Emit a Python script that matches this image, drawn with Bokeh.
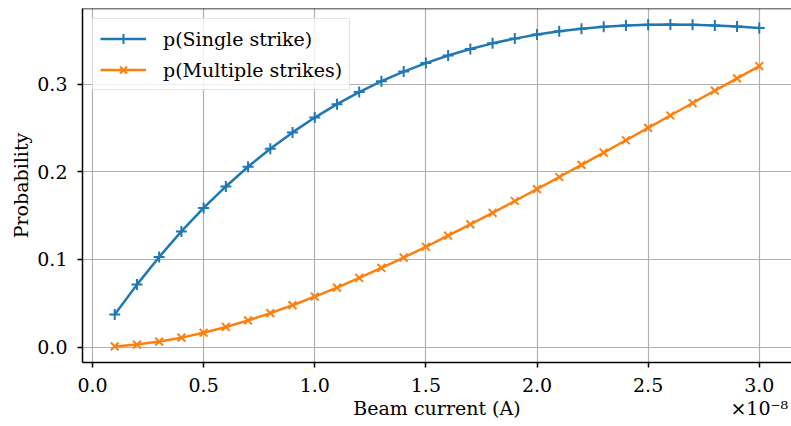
from bokeh.plotting import figure
from bokeh.models import (Range1d, SingleIntervalTicker, FixedTicker, PrintfTickFormatter,
                          Legend, LegendItem, Span, LinearAxis)
from bokeh.embed import file_html
from bokeh.resources import INLINE

# Beam current in units of 1e-8 A
beam_current_e8 = [0.1, 0.2, 0.3, 0.4, 0.5, 0.6, 0.7, 0.8, 0.9, 1.0,
                   1.1, 1.2, 1.3, 1.4, 1.5, 1.6, 1.7, 1.8, 1.9, 2.0,
                   2.1, 2.2, 2.3, 2.4, 2.5, 2.6, 2.7, 2.8, 2.9, 3.0]
p_single = [0.0370, 0.0712, 0.1028, 0.1319, 0.1587, 0.1832, 0.2057, 0.2262, 0.2449, 0.2618,
            0.2771, 0.2909, 0.3033, 0.3143, 0.3240, 0.3326, 0.3400, 0.3465, 0.3519, 0.3565,
            0.3602, 0.3631, 0.3653, 0.3668, 0.3676, 0.3679, 0.3676, 0.3668, 0.3656, 0.3640]
p_multiple = [0.0007, 0.0028, 0.0062, 0.0107, 0.0163, 0.0229, 0.0303, 0.0387, 0.0477, 0.0575,
              0.0678, 0.0788, 0.0902, 0.1021, 0.1144, 0.1270, 0.1399, 0.1531, 0.1666, 0.1802,
              0.1940, 0.2079, 0.2219, 0.2359, 0.2501, 0.2642, 0.2784, 0.2925, 0.3066, 0.3206]
series_labels = ["p(Single strike)", "p(Multiple strikes)"]
x_label = "Beam current (A)"
y_label = "Probability"
offset_text = "\u00d710\u207b\u2078"

FONT = "DejaVu Serif"
FS = "19px"
BLUE = "#1f77b4"
ORANGE = "#ff7f0e"

xmin, xmax = min(beam_current_e8), max(beam_current_e8)
xspan = xmax - xmin
x_lo, x_hi = xmin - 0.05 * xspan, xmax + 0.05 * xspan
all_y = p_single + p_multiple
ymin, ymax = min(all_y), max(all_y)
yspan = ymax - ymin
y_lo, y_hi = ymin - 0.05 * yspan, ymax + 0.05 * yspan

p = figure(width=791, height=426, output_backend="svg", toolbar_location=None,
           x_range=Range1d(x_lo, x_hi), y_range=Range1d(y_lo, y_hi),
           min_border_left=82, min_border_right=0, min_border_top=8, min_border_bottom=64)
p.outline_line_color = None
p.background_fill_color = "white"
p.border_fill_color = "white"

xax = p.xaxis[0]
yax = p.yaxis[0]
xax.ticker = SingleIntervalTicker(interval=0.5, num_minor_ticks=0)
yax.ticker = SingleIntervalTicker(interval=0.1, num_minor_ticks=0)
for ax in (xax, yax):
    ax.formatter = PrintfTickFormatter(format="%.1f")
    ax.axis_line_color = "black"
    ax.axis_line_width = 1.5
    ax.major_tick_line_color = "black"
    ax.major_tick_line_width = 1.5
    ax.major_tick_out = 5
    ax.major_tick_in = 0
    ax.minor_tick_out = 0
    ax.minor_tick_in = 0
    ax.major_label_text_font = FONT
    ax.major_label_text_font_size = FS
    ax.major_label_text_color = "black"
    ax.axis_label_text_font = FONT
    ax.axis_label_text_font_size = FS
    ax.axis_label_text_font_style = "normal"
    ax.axis_label_text_color = "black"

yax.axis_label = y_label
xax.major_label_standoff = 10
yax.major_label_standoff = 10
yax.axis_label_standoff = 2

# second, tick-less axis carrying the x label and the ×10⁻⁸ offset text on one line
x_mid = round((x_lo + x_hi) / 2, 4)
label_axis = LinearAxis(ticker=FixedTicker(ticks=[x_mid, xmax]),
                        major_label_overrides={x_mid: x_label, xmax: offset_text},
                        axis_line_color=None, major_tick_line_color=None,
                        minor_tick_line_color=None, major_tick_out=0, major_tick_in=0,
                        minor_tick_out=0, minor_tick_in=0, major_label_standoff=2,
                        major_label_text_font=FONT, major_label_text_font_size=FS,
                        major_label_text_color="black")
p.add_layout(label_axis, "below")

for g in (p.xgrid, p.ygrid):
    g.grid_line_color = "#b0b0b0"
    g.grid_line_width = 1.2
p.xgrid.ticker = xax.ticker
p.ygrid.ticker = yax.ticker

r1 = p.line(beam_current_e8, p_single, line_color=BLUE, line_width=2.5)
m1 = p.scatter(beam_current_e8, p_single, marker="cross", size=11,
               line_color=BLUE, line_width=2)
r2 = p.line(beam_current_e8, p_multiple, line_color=ORANGE, line_width=2.5)
m2 = p.scatter(beam_current_e8, p_multiple, marker="x", size=11,
               line_color=ORANGE, line_width=2)

legend = Legend(items=[LegendItem(label=series_labels[0], renderers=[r1, m1]),
                       LegendItem(label=series_labels[1], renderers=[r2, m2])],
                location="top_left", margin=10, padding=7, spacing=6,
                glyph_width=46, glyph_height=25, label_height=25, label_standoff=17,
                label_text_font=FONT, label_text_font_size=FS, label_text_color="black",
                border_line_color="#cccccc", border_line_width=1,
                background_fill_color="white", background_fill_alpha=0.8)
p.add_layout(legend)

p.add_layout(Span(location=y_hi, dimension="width", line_color="black", line_width=1.5))

open("out.html", "w").write(file_html(p, INLINE))
